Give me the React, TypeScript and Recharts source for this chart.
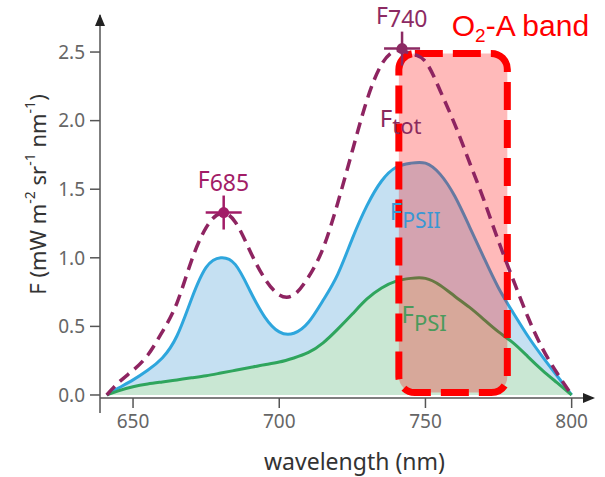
import React from 'react'
import { ComposedChart, Area, Line, XAxis, YAxis, ReferenceArea, ReferenceDot } from 'recharts'

// wavelength samples (nm) and fluorescence values
const wavelengths = [
  641, 645, 650, 655, 660, 665, 670, 675, 680, 685, 690, 695, 700, 705, 710, 715, 720,
  725, 730, 735, 740, 745, 750, 755, 760, 765, 770, 775, 780, 785, 790, 795, 800
]
const fTot = [
  0.0, 0.09, 0.18, 0.29, 0.46, 0.67, 0.98, 1.22, 1.325, 1.26, 1.05, 0.85, 0.73, 0.73, 0.86, 1.07, 1.4,
  1.78, 2.15, 2.41, 2.51, 2.49, 2.43, 2.22, 1.975, 1.7, 1.42, 1.12, 0.84, 0.57, 0.34, 0.16, 0.0
]
const fPsII = [
  0.0, 0.05, 0.11, 0.18, 0.27, 0.43, 0.7, 0.93, 1.0, 0.95, 0.76, 0.57, 0.46, 0.45, 0.53, 0.69, 0.88,
  1.14, 1.38, 1.56, 1.66, 1.69, 1.69, 1.61, 1.45, 1.23, 1.0, 0.78, 0.6, 0.43, 0.28, 0.14, 0.0
]
const fPsI = [
  0.0, 0.03, 0.06, 0.08, 0.095, 0.11, 0.125, 0.14, 0.16, 0.18, 0.2, 0.22, 0.24, 0.27, 0.31, 0.38, 0.48,
  0.59, 0.7, 0.78, 0.83, 0.85, 0.85, 0.8, 0.72, 0.64, 0.55, 0.46, 0.38, 0.28, 0.18, 0.09, 0.0
]

const xTicks = [650, 700, 750, 800]
const yTicks = [0, 0.5, 1, 1.5, 2, 2.5]
const xDomain = [638.7, 807.3]
const yDomain = [-0.022, 2.77]

// O2-A absorption band box
const bandX = [740.9, 778.0]
const bandY = [0.018, 2.49]

// peak markers
const peakX = [681, 742]
const peakY = [1.33, 2.525]
const peakNames = ['685', '740']

const data = wavelengths.map((w, i) => ({ w, tot: fTot[i], psii: fPsII[i], psi: fPsI[i] }))

const FONT = '"Noto Sans", sans-serif'
const AXIS = '#555'

const SubText = ({ x, y, main, sub, color, size, subSize, shift }: any) => (
  <text x={x} y={y} fill={color} fontFamily={FONT} fontSize={size}>
    <tspan>{main}</tspan>
    <tspan fontSize={subSize} dy={shift}>{sub}</tspan>
  </text>
)

const PeakMarker = ({ cx, cy, color, name }: any) => (
  <g>
    <line x1={cx - 18} x2={cx + 18} y1={cy} y2={cy} stroke={color} strokeWidth={2.5} />
    <line x1={cx} x2={cx} y1={cy - 17} y2={cy + 17} stroke={color} strokeWidth={2.5} />
    <circle cx={cx} cy={cy} r={5.5} fill={color} />
    <SubText x={cx - 26} y={cy - 25} main="F" sub={name} color={color} size={23} subSize={23} shift={3} />
  </g>
)

const YLabel = ({ viewBox }: any) => {
  const cx = 37
  const cy = viewBox.y + viewBox.height / 2 - 12
  return (
    <text
      x={cx}
      y={cy}
      transform={`rotate(-90 ${cx} ${cy})`}
      textAnchor="middle"
      dominantBaseline="central"
      fill="#333"
      fontFamily={FONT}
      fontSize={22}
    >
      <tspan>F (mW m</tspan>
      <tspan fontSize={14} dy={-8}>-2</tspan>
      <tspan dy={8}> sr</tspan>
      <tspan fontSize={14} dy={-8}>-1</tspan>
      <tspan dy={8}> nm</tspan>
      <tspan fontSize={14} dy={-8}>-1</tspan>
      <tspan dy={8}>)</tspan>
    </text>
  )
}

const XLabel = ({ viewBox }: any) => (
  <text
    x={viewBox.x + viewBox.width / 2 + 8}
    y={470}
    textAnchor="middle"
    fill="#333"
    fontFamily={FONT}
    fontSize={23}
  >
    wavelength (nm)
  </text>
)

export default function App() {
  return (
    <div style={{ position: 'absolute', left: 0, top: 0, background: '#fff' }}>
      <ComposedChart
        width={605}
        height={477}
        data={data}
        margin={{ top: 15, right: 12, left: 40, bottom: 49 }}
      >
        <XAxis
          dataKey="w"
          type="number"
          domain={xDomain}
          allowDataOverflow
          ticks={xTicks}
          height={30}
          tickSize={10}
          tickMargin={7}
          axisLine={{ stroke: AXIS, strokeWidth: 1.5 }}
          tickLine={{ stroke: AXIS, strokeWidth: 1.5 }}
          tick={{ fill: '#666', fontSize: 19, fontFamily: FONT }}
          label={<XLabel />}
        />
        <YAxis
          type="number"
          domain={yDomain}
          allowDataOverflow
          ticks={yTicks}
          width={60}
          tickSize={10}
          tickMargin={5}
          tickFormatter={(v: number) => v.toFixed(1)}
          axisLine={{ stroke: AXIS, strokeWidth: 1.5 }}
          tickLine={{ stroke: AXIS, strokeWidth: 1.5 }}
          tick={{ fill: '#666', fontSize: 19, fontFamily: FONT }}
          label={<YLabel />}
        />

        <Area
          dataKey="psii"
          type="natural"
          stroke="#2ea6dd"
          strokeWidth={3}
          fill="#c5e0f2"
          fillOpacity={1}
          isAnimationActive={false}
          dot={false}
          activeDot={false}
        />
        <Area
          dataKey="psi"
          type="natural"
          stroke="#2fa55d"
          strokeWidth={3}
          fill="#c9e7d3"
          fillOpacity={1}
          isAnimationActive={false}
          dot={false}
          activeDot={false}
        />

        <ReferenceDot
          x={737.8}
          y={1.277}
          ifOverflow="visible"
          shape={(p: any) => (
            <SubText x={p.cx} y={p.cy} main="F" sub="PSII" color="#3a98d4" size={24} subSize={21} shift={8} />
          )}
        />
        <ReferenceDot
          x={741.8}
          y={0.525}
          ifOverflow="visible"
          shape={(p: any) => (
            <SubText x={p.cx} y={p.cy} main="F" sub="PSI" color="#4b9a5c" size={24} subSize={22} shift={8} />
          )}
        />

        <ReferenceArea
          x1={bandX[0]}
          x2={bandX[1]}
          y1={bandY[0]}
          y2={bandY[1]}
          ifOverflow="visible"
          shape={(p: any) => (
            <rect x={p.x} y={p.y} width={p.width} height={p.height} rx={16} fill="#ff0000" fillOpacity={0.27} />
          )}
        />

        <Line
          dataKey="tot"
          type="natural"
          stroke="#8e2461"
          strokeWidth={3.5}
          strokeDasharray="12 7"
          dot={false}
          activeDot={false}
          isAnimationActive={false}
        />

        <ReferenceArea
          x1={bandX[0]}
          x2={bandX[1]}
          y1={bandY[0]}
          y2={bandY[1]}
          ifOverflow="visible"
          shape={(p: any) => (
            <rect
              x={p.x}
              y={p.y}
              width={p.width}
              height={p.height}
              rx={16}
              fill="none"
              stroke="#ff0000"
              strokeWidth={7}
              strokeDasharray="28 10"
            />
          )}
        />

        <ReferenceDot
          x={734.4}
          y={1.95}
          ifOverflow="visible"
          shape={(p: any) => (
            <SubText x={p.cx} y={p.cy} main="F" sub="tot" color="#8a2a5e" size={24} subSize={22} shift={7} />
          )}
        />

        {peakX.map((px, i) => (
          <ReferenceDot
            key={peakNames[i]}
            x={px}
            y={peakY[i]}
            ifOverflow="visible"
            shape={(p: any) => (
              <PeakMarker cx={p.cx} cy={p.cy} color={i === 0 ? '#a21c67' : '#8c2a63'} name={peakNames[i]} />
            )}
          />
        ))}

        <ReferenceDot
          x={759.0}
          y={2.62}
          ifOverflow="visible"
          shape={(p: any) => (
            <text x={p.cx} y={p.cy} fill="#ff0000" fontFamily='"Liberation Sans", Arial, sans-serif' fontSize={30}>
              <tspan>O</tspan>
              <tspan fontSize={19} dy={6}>2</tspan>
              <tspan dy={-6}>-A band</tspan>
            </text>
          )}
        />

        {/* axis arrows and the y axis stub below the origin */}
        <ReferenceDot
          x={xDomain[0]}
          y={yDomain[1]}
          ifOverflow="visible"
          shape={(p: any) => (
            <polygon points={`${p.cx - 5},${p.cy + 11} ${p.cx + 5},${p.cy + 11} ${p.cx},${p.cy - 1}`} fill="#222" />
          )}
        />
        <ReferenceDot
          x={xDomain[1]}
          y={yDomain[0]}
          ifOverflow="visible"
          shape={(p: any) => (
            <polygon points={`${p.cx - 10},${p.cy - 5} ${p.cx - 10},${p.cy + 5} ${p.cx + 2},${p.cy}`} fill="#222" />
          )}
        />
        <ReferenceDot
          x={xDomain[0]}
          y={yDomain[0]}
          ifOverflow="visible"
          shape={(p: any) => (
            <line x1={p.cx} x2={p.cx} y1={p.cy} y2={p.cy + 15} stroke={AXIS} strokeWidth={1.5} />
          )}
        />
      </ComposedChart>
    </div>
  )
}
